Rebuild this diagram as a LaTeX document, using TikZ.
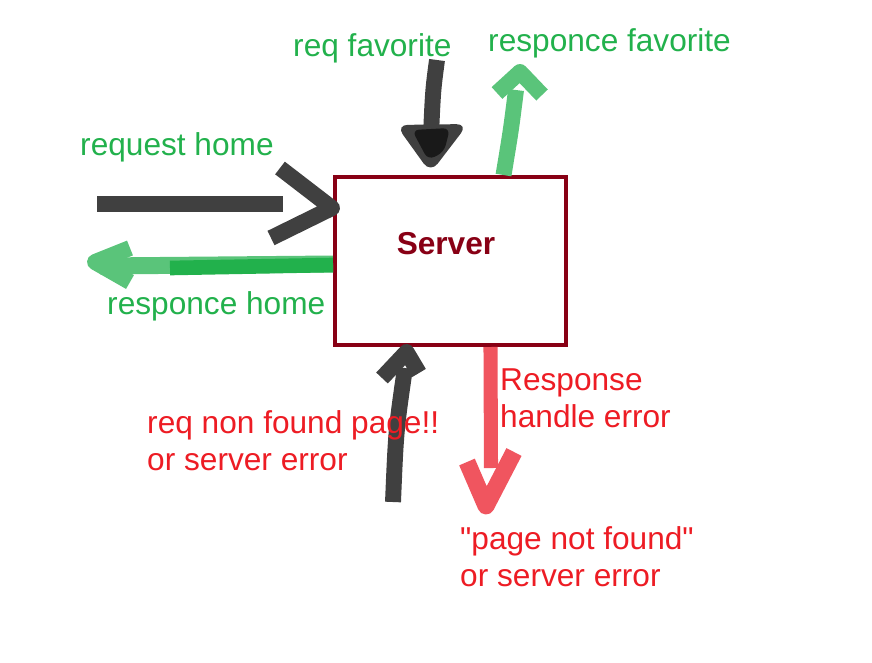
\documentclass[tikz,border=0pt]{standalone}
\usepackage{fontspec}
\setmainfont{Liberation Sans}
\usetikzlibrary{calc}
\definecolor{paintgreen}{RGB}{34,177,76}
\definecolor{lightgreen}{RGB}{90,196,122}
\definecolor{paintred}{RGB}{237,28,36}
\definecolor{lightred}{RGB}{240,85,95}
\definecolor{darkred}{RGB}{136,0,21}
\definecolor{pengray}{RGB}{64,64,64}
\tikzstyle{serverbox} = [rectangle, draw=darkred, line width=3.4pt, fill=white,
    minimum width=6.93cm, minimum height=5.04cm]
\tikzstyle{greentext} = [anchor=base west, inner sep=0pt, text=paintgreen, align=left]
\tikzstyle{redtext} = [anchor=base west, inner sep=0pt, text=paintred, align=left]
\tikzstyle{pen} = [line width=13.6pt, line cap=butt, line join=round]

\begin{document}
\begin{tikzpicture}[x=0.03cm, y=-0.03cm, font=\fontsize{27}{31.5}\selectfont]
	\useasboundingbox (0,0) rectangle (872,662);

		\node [serverbox] (server) at (450.5,261) {};
		\node [text=darkred, font=\fontsize{27}{31.5}\selectfont\bfseries] (title) at (446,244) {Server};

		\coordinate (homein) at (97,204);
		\coordinate (homeout) at (95,262);
		\coordinate (favin) at (437,60);
		\coordinate (favout) at (520,72);
		\coordinate (errin) at (393,502);
		\coordinate (errout) at (486,506);

		% request home
		\draw [pen, pengray] (homein) -- ++(186,0);
		\draw [pen, pengray] ($(server.north west)+(-53,-7)$) -- ($(server.north west)+(-1,33)$) -- ($(server.north west)+(-62,63)$);

		% responce home
		\draw [pen, lightgreen, line width=14.5pt] (server.west |- 0,264) -- (100,266);
		\draw [pen, paintgreen, line width=12.5pt] (server.west |- 0,265) -- (170,268);
		\draw [pen, lightgreen] ($(homeout)+(35,-14)$) -- (homeout) -- ($(homeout)+(35,20)$);

		% req favorite
		\draw [pen, pengray] (favin) .. controls (433,90) .. (431,135);
		\fill [pengray, rounded corners=10pt] (396,125) -- (468,124) -- ($(server.north)+(-20,-2)$) -- cycle;
		\fill [black!90, rounded corners=6pt] (412,130) -- (450,128) -- (444,152) -- (428,160) -- cycle;

		% responce favorite
		\draw [pen, lightgreen] ($(server.north)+(53,0)$) .. controls (511,130) .. (516,90);
		\draw [pen, lightgreen] ($(favout)+(-23,21)$) -- (favout) -- ($(favout)+(22,23)$);

		% req non found page
		\draw [pen, pengray] (errin) .. controls (396,430) .. (405,368);
		\draw [pen, pengray] (382,378) -- ($(server.south)+(-44,5)$) -- (419,373);

		% response handle error
		\draw [pen, lightred, line width=12pt] ($(server.south)+(40,0)$) -- (491,468);
		\draw [pen, lightred, line width=14.5pt] ($(errout)+(-19,-44)$) -- (errout) -- ($(errout)+(28,-54)$);

		% texts on top of the strokes
		\node [greentext] (reqhome) at (80,155) {request home};
		\node [greentext] (resphome) at (107,314) {responce home};
		\node [greentext] (reqfav) at (293,56) {req favorite};
		\node [greentext] (respfav) at (488,51) {responce favorite};
		% base of a two line node is its last line
		\node [redtext] (reqerr) at (147,470) {req non found page!!\\or server error};
		\node [redtext] (handle) at (500,427) {Response\\handle error};
		\node [redtext] (notfound) at (460,586) {\textquotedbl page not found\textquotedbl\\or server error};

	\end{tikzpicture}
\end{document}
